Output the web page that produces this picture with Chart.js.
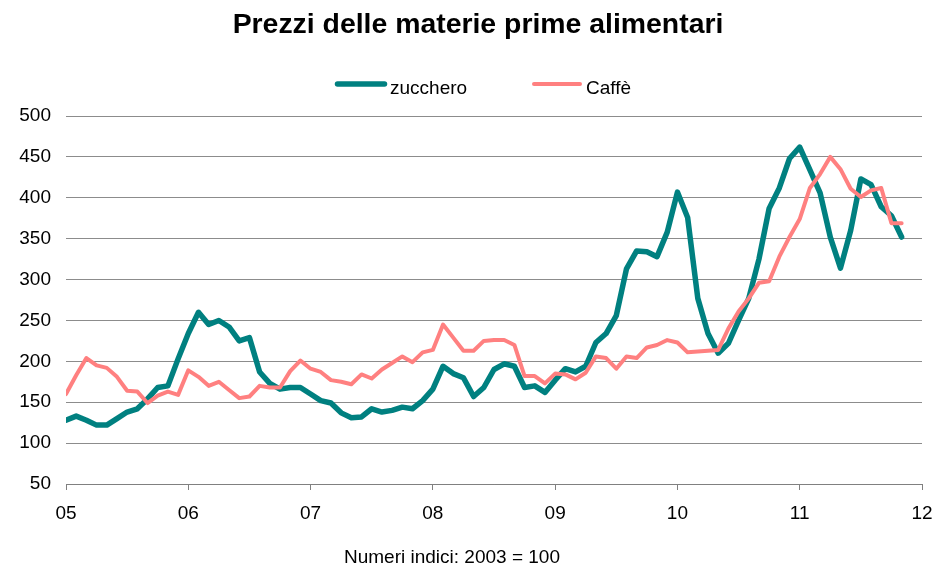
<!DOCTYPE html>
<html>
<head>
<meta charset="utf-8">
<script src="https://cdn.jsdelivr.net/npm/chart.js@4/dist/chart.umd.min.js"></script>
<style>
	html, body { margin: 0; padding: 0; background: #fff; }
	#wrap { width: 938px; height: 566px; }
</style>
</head>
<body>
<div id="wrap"><canvas id="chart" width="938" height="566"></canvas></div>
<script>
// monthly index values, Jan 2005 .. Nov 2011 (2003 = 100)
const zucchero = [
	128, 133, 128, 122, 122, 130, 138, 142, 154, 168, 170, 203,
	234, 260, 245, 250, 242, 225, 229, 187, 173, 166, 168, 168,
	160, 152, 149, 137, 131, 132, 142, 138, 140, 144, 142, 152,
	166, 194, 185, 180, 157, 168, 190, 197, 194, 168, 170, 162,
	177, 191, 187, 194, 223, 234, 256, 313, 335, 334, 328, 358,
	407, 376, 277, 234, 210, 222, 250, 277, 325, 387, 412, 448,
	462, 434, 406, 352, 314, 360, 423, 416, 389, 378, 352
];
const caffe = [
	160, 183, 204, 195, 192, 181, 164, 163, 149, 158, 163, 159,
	189, 181, 170, 175, 165, 155, 157, 170, 168, 168, 188, 201,
	191, 187, 177, 175, 172, 184, 179, 190, 198, 206, 199, 211,
	214, 245, 229, 213, 213, 225, 226, 226, 220, 182, 182, 173,
	185, 184, 178, 186, 206, 204, 191, 206, 204, 217, 220, 226,
	223, 211, 212, 213, 214, 240, 261, 277, 296, 298, 328, 352,
	374, 412, 429, 450, 435, 411, 401, 409, 412, 369, 369
];
const yearLabels = ['05', '06', '07', '08', '09', '10', '11', '12'];

const titleText = 'Prezzi delle materie prime alimentari';
const noteText = 'Numeri indici: 2003 = 100';

const FONT = '"Liberation Sans", Arial, sans-serif';

function points(values) {
	return values.map((v, i) => ({x: i, y: v}));
}

// title, legend and footnote drawn at fixed spots
const decor = {
	id: 'decor',
	afterDraw(chart) {
		const ctx = chart.ctx;
		ctx.save();
		ctx.fillStyle = '#000';
		ctx.textBaseline = 'alphabetic';

		ctx.textAlign = 'center';
		ctx.font = 'bold 28.4px ' + FONT;
		ctx.fillText(titleText, 478, 33);

		ctx.font = '19px ' + FONT;
		ctx.fillText(noteText, 452, 563);

		const spots = [{from: 337.5, to: 384.5, text: 390}, {from: 534, to: 580, text: 586}];
		ctx.textAlign = 'left';
		chart.data.datasets.forEach((ds, i) => {
			const s = spots[i];
			ctx.strokeStyle = ds.borderColor;
			ctx.lineWidth = ds.borderWidth;
			ctx.lineCap = 'round';
			ctx.beginPath();
			ctx.moveTo(s.from, 84);
			ctx.lineTo(s.to, 84);
			ctx.stroke();
			ctx.fillText(ds.label, s.text, 94);
		});
		ctx.restore();
	}
};

new Chart(document.getElementById('chart'), {
	type: 'line',
	data: {
		datasets: [
			{
				label: 'zucchero',
				data: points(zucchero),
				borderColor: '#008080',
				borderWidth: 5.5,
				order: 1,
			},
			{
				label: 'Caffè',
				data: points(caffe),
				borderColor: '#FF8080',
				borderWidth: 4,
				order: 0,
			},
		]
	},
	options: {
		responsive: false,
		animation: false,
		devicePixelRatio: 1,
		layout: {
			padding: {left: 0, right: 16, top: 116, bottom: 42}
		},
		elements: {
			point: {radius: 0},
			line: {tension: 0, borderJoinStyle: 'round', borderCapStyle: 'round', fill: false}
		},
		scales: {
			x: {
				type: 'linear',
				min: 0,
				max: 84,
				afterFit: (s) => { s.height = 40; s.paddingRight = 0; },
				grid: {
					drawOnChartArea: false,
					drawTicks: true,
					tickLength: 6,
					color: '#808080',
				},
				border: {color: '#808080'},
				ticks: {
					stepSize: 12,
					autoSkip: false,
					maxRotation: 0,
					padding: 12,
					color: '#000',
					font: {family: FONT, size: 19},
					callback: (v) => yearLabels[v / 12],
				}
			},
			y: {
				min: 50,
				max: 500,
				afterFit: (s) => { s.width = 66; },
				grid: {
					color: '#8c8c8c',
					drawTicks: false,
				},
				border: {display: false},
				ticks: {
					stepSize: 50,
					padding: 15,
					color: '#000',
					font: {family: FONT, size: 19},
				}
			}
		},
		plugins: {
			legend: {display: false},
			title: {display: false},
			tooltip: {enabled: false}
		}
	},
	plugins: [decor]
});
</script>
</body>
</html>
